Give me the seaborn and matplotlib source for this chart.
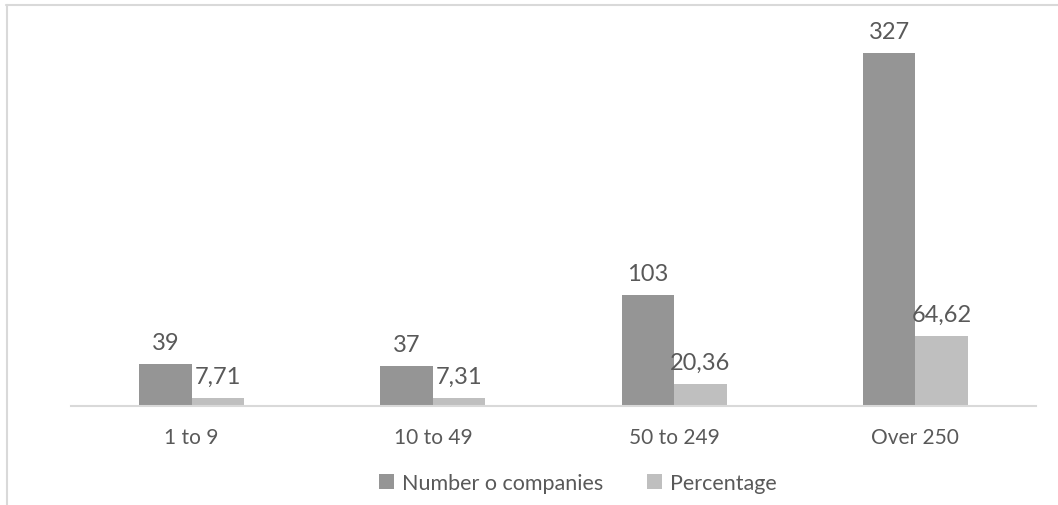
import matplotlib
matplotlib.use("Agg")
import matplotlib.pyplot as plt
from matplotlib.lines import Line2D
import seaborn as sns
import pandas as pd

# Company size bands and the two measured series
categories = ["1 to 9", "10 to 49", "50 to 249", "Over 250"]
num_companies = [39, 37, 103, 327]
percentage = [7.71, 7.31, 20.36, 64.62]
series_names = ["Number o companies", "Percentage"]

df = pd.DataFrame({
    "size": categories * 2,
    "value": num_companies + percentage,
    "series": [series_names[0]] * len(categories) + [series_names[1]] * len(categories),
})

sns.set_theme(style="white")
plt.rcParams["font.family"] = ["Lato", "DejaVu Sans"]

W, H = 1058, 506
fig = plt.figure(figsize=(W / 100, H / 100), dpi=100)
ax = fig.add_axes([71 / W, (H - 407) / H, (1036 - 71) / W, (407 - 21) / H])

palette = {series_names[0]: "#959595", series_names[1]: "#bfbfbf"}
sns.barplot(data=df, x="size", y="value", hue="series", order=categories,
            hue_order=series_names, palette=palette, width=0.435, gap=0,
            saturation=1, ax=ax, legend=True, edgecolor="none", linewidth=0)

ax.set_xlim(-0.5, 3.5)
ax.set_ylim(0, 357.5)

# value labels with comma decimals
text_color = "#595959"
for cont, vals in zip(ax.containers, [num_companies, percentage]):
    labels = [(f"{v:.2f}".replace(".", ",") if isinstance(v, float) else str(v)) for v in vals]
    ax.bar_label(cont, labels=labels, padding=8, fontsize=17, color=text_color)

for s in ["top", "right", "left"]:
    ax.spines[s].set_visible(False)
ax.spines["bottom"].set_color("#d9d9d9")
ax.spines["bottom"].set_linewidth(1.5)
ax.set_yticks([])
ax.set_xlabel("")
ax.set_ylabel("")
ax.tick_params(axis="x", length=0, pad=15, labelsize=15, labelcolor=text_color)

leg = ax.legend(loc="center", bbox_to_anchor=(578 / W, (H - 484) / H),
                bbox_transform=fig.transFigure, ncol=2, frameon=False,
                fontsize=15.5, handlelength=0.7, handleheight=0.7,
                handletextpad=0.4, columnspacing=2.0)
for t in leg.get_texts():
    t.set_color(text_color)

# outer chart frame (top and left edges)
frame_color = "#d9d9d9"
fig.add_artist(Line2D([6 / W, 1.0], [1 - 6 / H, 1 - 6 / H], transform=fig.transFigure,
                      color=frame_color, linewidth=1.5))
fig.add_artist(Line2D([7 / W, 7 / W], [0.0, 1 - 6 / H], transform=fig.transFigure,
                      color=frame_color, linewidth=1.5))

fig.savefig("out.png", dpi=100, facecolor="white")
